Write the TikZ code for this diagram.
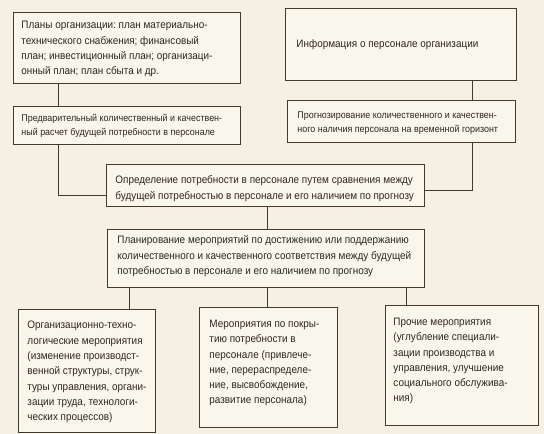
\documentclass[tikz,border=0pt]{standalone}
\usepackage{fontspec}
\setmainfont{Liberation Sans}[FakeStretch=0.92]
\definecolor{bg}{HTML}{F5F0E4}
\definecolor{boxfill}{HTML}{F9F6EC}
\definecolor{ln}{HTML}{45392E}
\definecolor{txt}{HTML}{2F2720}
% #1 left pad, #2 width, #3 height, #4 first baseline offset, #5 text
\newcommand\boxcontent[5]{\hspace*{#1pt}\parbox[c][#3pt][t]{\dimexpr#2pt-#1pt\relax}{\raggedright\frenchspacing\hyphenpenalty=10000\rule{0pt}{#4pt}#5}}
\begin{document}
\begin{tikzpicture}[x=1pt,y=-1pt,
  blk/.style={draw=ln, line width=0.9pt, fill=boxfill, inner sep=0pt, anchor=north west, text=txt,
    font=\fontsize{10.8}{15.3}\selectfont},
  blksmall/.style={blk, font=\fontsize{9.7}{13.5}\selectfont},
  conn/.style={draw=ln, line width=0.8pt}]
\fill[bg] (0,0) rectangle (544,434);
\useasboundingbox (0,0) rectangle (544,434);

\node[blk] (b1) at (13,12) {\boxcontent{8}{227}{71}{16.5}{Планы организации: план материально-\\технического снабжения; финансовый\\план; инвестиционный план; организаци-\\онный план; план сбыта и др.}};
\node[blk] (b2) at (285,8) {\boxcontent{11}{231}{72}{39}{Информация о персонале организации}};
\node[blksmall] (b3) at (13,106) {\boxcontent{8}{227}{38}{15.5}{Предварительный количественный и качествен-\\ный расчет будущей потребности в персонале}};
\node[blksmall] (b4) at (287,100) {\boxcontent{10}{228}{42}{18.5}{Прогнозирование количественного и качествен-\\ного наличия персонала на временной горизонт}};
\node[blk] (b5) at (106,164) {\boxcontent{9}{318}{42}{19.5}{Определение потребности в персонале путем сравнения между\\будущей потребностью в персонале и его наличием по прогнозу}};
\node[blk] (b6) at (107,229) {\boxcontent{10}{317}{58}{14.5}{Планирование мероприятий по достижению или поддержанию\\количественного и качественного соответствия между будущей\\потребностью в персонале и его наличием по прогнозу}};
\node[blk] (b7) at (18,309) {\boxcontent{9}{137}{123}{19.5}{Организационно-техно-\\логические мероприятия\\(изменение производст-\\венной структуры, струк-\\туры управления, органи-\\зации труда, технологи-\\ческих процессов)}};
\node[blk] (b8) at (199,307) {\boxcontent{10}{138}{120}{20}{Мероприятия по покры-\\тию потребности в\\персонале (привлече-\\ние, перераспределе-\\ние, высвобождение,\\развитие персонала)}};
\node[blk] (b9) at (385,305) {\boxcontent{8}{153}{120}{20}{Прочие мероприятия\\(углубление специали-\\зации производства и\\управления, улучшение\\социального обслужива-\\ния)}};

\coordinate (jl) at (58,195);
\coordinate (jr) at (472,190);
\coordinate (xm) at (267,0);
\coordinate (x7) at (129,0);
\coordinate (x9) at (406,0);

\draw[conn] (b1.south -| jl) -- (b3.north -| jl);
\draw[conn] (b3.south -| jl) -- (jl) -- (jl -| b5.west);
\draw[conn] (b2.south -| jr) -- (b4.north -| jr);
\draw[conn] (b4.south -| jr) -- (jr) -- (jr -| b5.east);
\draw[conn] (b5.south -| xm) -- (b6.north -| xm);
\draw[conn] (b6.south -| x7) -- (b7.north -| x7);
\draw[conn] (b6.south -| xm) -- (b8.north -| xm);
\draw[conn] (b6.south -| x9) -- (b9.north -| x9);
\end{tikzpicture}
\end{document}
